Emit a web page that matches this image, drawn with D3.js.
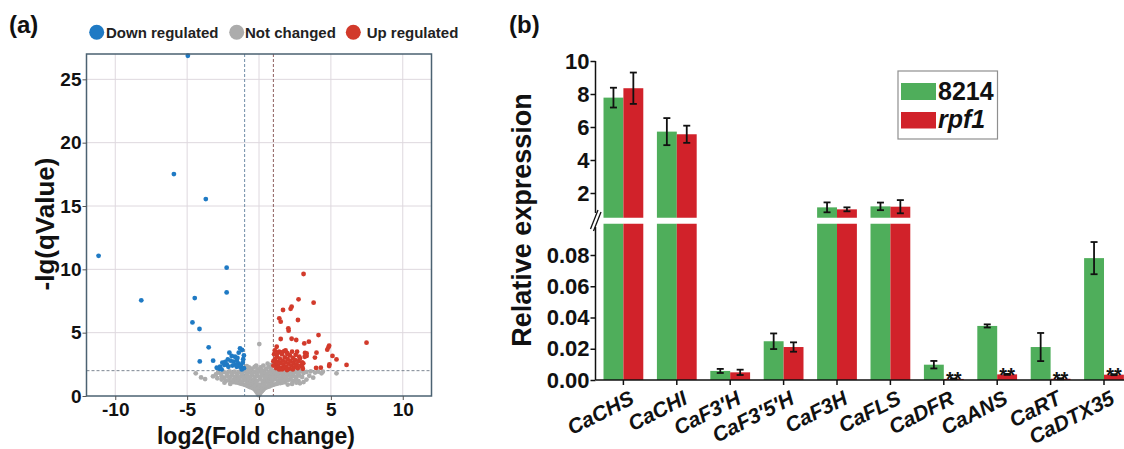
<!DOCTYPE html>
<html><head><meta charset="utf-8">
<script src="https://cdn.jsdelivr.net/npm/d3@7"></script>
<style>body{margin:0;background:#fff}svg{display:block;font-family:"Liberation Sans",Arial,Helvetica,sans-serif}</style>
</head><body>
<svg id="c" width="1124" height="449"></svg>
<script>
// ---------- Panel (a) data: volcano plot ----------
const legendA = ["Down regulated","Not changed","Up regulated"];
const xTicksA = [-10,-5,0,5,10];
const yTicksA = [0,5,10,15,20,25];
const fcCut = [-1,1];
const qCut = 2;
const downPts = [
[-11.16,11.07],[-8.19,7.55],[-4.95,26.86],[-5.92,17.52],[-3.70,15.55],[-2.25,10.13],[-2.25,8.18],[-4.47,7.73],[-4.63,5.81],[-4.14,5.29],[-3.5,3.84],[-4.12,2.73],[-3.19,2.79],
[-2.06,3.42],[-1.32,3.76],[-1.18,3.63],[-1.41,3.42],[-1.67,3.1],[-1.90,3.16],[-2.17,2.89],[-1.97,2.79],[-2.55,2.63],[-2.41,2.45],[-2.71,2.31],[-2.94,2.23],[-2.24,2.5],[-1.78,2.71],[-1.55,2.79],[-1.44,2.58],[-1.25,2.45],[-1.13,2.63],[-1.32,2.31],[-1.55,2.31],[-2.76,2.15],[-2.13,2.31],[-1.05,2.2],[-1.2,2.1],[-1.6,2.45],[-1.85,2.4],[-2.6,2.1],[-1.1,2.9],[-1.5,3.0],[-2.35,2.7],[-1.05,3.2]
];
const upPts = [
[3.10,9.63],[2.75,7.63],[3.80,7.37],[2.27,7.05],[2.2,6.88],[1.67,6.79],[1.41,6.13],[1.51,5.87],[2.71,6.0],[2.04,5.34],[2.06,5.16],[4.14,4.81],[1.51,4.5],[2.27,4.52],[2.59,4.42],[3.47,4.29],[3.15,4.15],[4.88,3.97],[4.83,3.84],[4.75,3.66],[7.48,4.21],[4.0,3.42],[3.2,3.4],[3.18,3.1],[5.11,3.16],[5.39,2.89],[3.89,3.03],[6.09,2.45],[4.88,2.37],[4.9,2.5],[4.3,2.24],[3.97,2.22],[1.23,3.89],[3.31,3.37],[3.31,3.16],[2.85,2.97],[3.08,2.58],[3.0,2.3],[2.62,2.45],
[1.05,3.3],[1.1,2.9],[1.15,2.5],[1.2,2.2],[1.25,3.1],[1.3,2.7],[1.35,2.35],[1.4,3.5],[1.45,2.95],[1.5,2.6],[1.55,2.2],[1.6,3.3],[1.65,2.8],[1.7,2.45],[1.75,3.55],[1.8,3.05],[1.85,2.65],[1.9,2.3],[1.95,3.4],[2.0,2.9],[2.05,2.55],[2.1,2.15],[2.15,3.2],[2.2,2.75],[2.25,2.4],[2.3,3.5],[2.35,3.0],[2.4,2.6],[2.45,2.25],[2.5,2.85],[2.55,3.25],[2.6,2.5],[2.7,2.2],[2.75,2.75],[2.8,3.1],[2.9,2.4],[3.0,2.65],[3.05,2.15],[1.1,3.6],[1.3,3.4],[1.55,3.45],[1.85,3.6],[2.0,3.3],[1.2,2.6],[1.6,2.1],[2.35,2.1],[1.4,2.1],[1.75,2.2],[1.0,2.4],[1.0,2.75],[1.95,2.05],[2.65,3.5]
];
const grayPts = [
[0.0,0.05],[-0.05,0.12],[0.06,0.18],[-0.12,0.25],[0.12,0.28],[-0.18,0.35],[0.2,0.38],[-0.25,0.45],[0.27,0.47],[0.0,0.3],[-0.05,0.45],[0.08,0.5],
[-0.32,0.55],[0.35,0.58],[-0.42,0.62],[0.45,0.65],[-0.55,0.68],[0.55,0.7],[-0.65,0.72],[0.68,0.74],[-0.2,0.6],[0.2,0.65],[-0.08,0.7],[0.1,0.78],[-0.78,0.78],[0.8,0.8],[-0.35,0.8],[0.4,0.82],
[-0.9,0.84],[0.92,0.86],[-1.05,0.9],[1.05,0.9],[-1.2,0.95],[1.2,0.95],[-1.35,1.0],[1.35,1.0],[-1.5,1.05],[1.5,1.02],[-1.65,1.08],[1.65,1.06],[-0.6,0.95],[0.65,0.98],[-0.25,0.95],[0.25,1.0],[0.0,0.9],[-0.8,1.05],[0.85,1.08],[-1.8,1.1],[1.8,1.1],[-0.45,1.1],[0.5,1.1],
[-2.3,1.2],[-2.1,1.25],[-1.95,1.15],[-1.75,1.3],[-1.55,1.2],[-1.4,1.35],[-1.2,1.15],[-1.05,1.3],[-0.9,1.2],[-0.7,1.35],[-0.55,1.22],[-0.35,1.3],[-0.15,1.18],[0.05,1.32],[0.25,1.2],[0.4,1.35],[0.6,1.25],[0.78,1.38],[0.95,1.22],[1.1,1.35],[1.3,1.2],[1.45,1.32],[1.62,1.22],[1.8,1.35],[1.98,1.25],[2.15,1.3],[2.35,1.2],[2.55,1.28],[2.75,1.2],
[-2.6,1.55],[-2.4,1.45],[-2.2,1.6],[-2.0,1.5],[-1.85,1.65],[-1.65,1.48],[-1.5,1.6],[-1.3,1.5],[-1.15,1.62],[-0.98,1.45],[-0.8,1.58],[-0.62,1.5],[-0.45,1.65],[-0.28,1.48],[-0.1,1.6],[0.1,1.5],[0.3,1.62],[0.48,1.46],[0.65,1.6],[0.82,1.5],[1.0,1.65],[1.18,1.48],[1.35,1.6],[1.52,1.45],[1.7,1.62],[1.88,1.5],[2.05,1.64],[2.22,1.48],[2.4,1.6],[2.6,1.5],[2.8,1.62],[3.0,1.5],
[-2.85,1.85],[-2.65,1.75],[-2.45,1.9],[-2.25,1.78],[-2.05,1.95],[-1.9,1.8],[-1.7,1.92],[-1.52,1.75],[-1.38,1.9],[-1.2,1.8],[-1.02,1.95],[-0.85,1.75],[-0.68,1.88],[-0.5,1.78],[-0.32,1.92],[-0.15,1.8],[0.02,1.95],[0.2,1.78],[0.38,1.9],[0.55,1.76],[0.72,1.92],[0.9,1.8],[1.08,1.95],[1.25,1.78],[1.42,1.9],[1.6,1.75],[1.78,1.92],[1.95,1.8],[2.12,1.95],[2.3,1.78],[2.5,1.9],[2.7,1.8],[2.9,1.95],[3.1,1.82],[3.3,1.9],
[-0.9,2.1],[-0.7,2.25],[-0.5,2.15],[-0.3,2.3],[-0.1,2.1],[0.1,2.25],[0.3,2.4],[0.5,2.15],[0.7,2.3],[0.9,2.45],[0.85,2.1],[-0.85,2.35],[0.6,2.55],[-0.6,2.05],[0.2,2.05],[-0.2,2.4],[0.02,4.1],
[-4.4,1.79],[-4.03,1.47],[-3.75,1.34],[-3.2,1.55],[-3.0,1.7],[2.85,1.0],[3.1,1.1],[3.3,1.3],[3.77,1.45],[4.35,1.79],[4.44,1.92],[5.39,1.79],[4.12,1.92],[3.5,1.6],[3.9,1.85],[3.6,1.95],[-2.6,1.3],[-2.9,1.4],[2.6,1.05],[2.3,0.95],[2.0,0.9],[-2.0,0.95],[-2.4,1.05]
];

// ---------- Panel (b) data: relative expression ----------
const genes = ["CaCHS","CaCHI","CaF3'H","CaF3'5'H","CaF3H","CaFLS","CaDFR","CaANS","CaRT","CaDTX35"];
const seriesNames = ["8214","rpf1"];
const wtVals  = [7.78,5.72,0.0058,0.0248,1.13,1.19,0.0098,0.0346,0.0211,0.078];
const wtErr   = [0.6,0.82,0.0013,0.005,0.3,0.23,0.0024,0.001,0.009,0.0103];
const rpfVals = [8.35,5.56,0.0049,0.0211,1.01,1.17,0.0007,0.0036,0.0008,0.0034];
const rpfErr  = [0.95,0.52,0.0017,0.003,0.12,0.4,0.0002,0.0003,0.0003,0.0003];
const signif  = ["","","","","","","**","**","**","**"];
const upperTicks = [2,4,6,8,10];
const lowerTicks = [0,0.02,0.04,0.06,0.08];

const FONT = '"Liberation Sans",Arial,Helvetica,sans-serif';
const svg = d3.select("#c");

// ================= Panel (a) =================
const xA = d3.scaleLinear().domain([-12,12]).range([86.5,431.5]);
const yA = d3.scaleLinear().domain([0,27]).range([396,54]);
const gA = svg.append("g");
gA.append("rect").attr("x",xA(-12)).attr("y",yA(27)).attr("width",xA(12)-xA(-12)).attr("height",yA(0)-yA(27)).attr("fill","#fff");
xTicksA.forEach(v=>gA.append("line").attr("x1",xA(v)).attr("x2",xA(v)).attr("y1",yA(27)).attr("y2",yA(0)).attr("stroke","#ded8de").attr("stroke-width",1));
yTicksA.slice(1).forEach(v=>gA.append("line").attr("x1",xA(-12)).attr("x2",xA(12)).attr("y1",yA(v)).attr("y2",yA(v)).attr("stroke","#ded8de").attr("stroke-width",1));
gA.append("line").attr("x1",xA(fcCut[0])).attr("x2",xA(fcCut[0])).attr("y1",yA(27)).attr("y2",yA(0)).attr("stroke","#6f8ca6").attr("stroke-dasharray","3,2").attr("stroke-width",1);
gA.append("line").attr("x1",xA(fcCut[1])).attr("x2",xA(fcCut[1])).attr("y1",yA(27)).attr("y2",yA(0)).attr("stroke","#8e5f5f").attr("stroke-dasharray","3,2").attr("stroke-width",1);
gA.append("line").attr("x1",xA(-12)).attr("x2",xA(12)).attr("y1",yA(qCut)).attr("y2",yA(qCut)).attr("stroke","#7d8792").attr("stroke-dasharray","3,2").attr("stroke-width",1);

const colA = ["#1f7ac4","#acacac","#d23a2b"];
[[grayPts,colA[1]],[downPts,colA[0]],[upPts,colA[2]]].forEach(([pts,c])=>{
  gA.append("g").selectAll("circle").data(pts).join("circle")
    .attr("cx",d=>xA(d[0])).attr("cy",d=>yA(d[1])).attr("r",2.4).attr("fill",c);
});
gA.append("rect").attr("x",xA(-12)).attr("y",yA(27)).attr("width",xA(12)-xA(-12)).attr("height",yA(0)-yA(27))
  .attr("fill","none").attr("stroke","#4b6272").attr("stroke-width",1.5);

const axA_y = gA.append("g").attr("transform",`translate(${xA(-12)},0)`)
  .call(d3.axisLeft(yA).tickValues(yTicksA).tickSize(4).tickSizeOuter(0).tickPadding(1).tickFormat(d=>String(d)));
const axA_x = gA.append("g").attr("transform",`translate(0,${yA(0)})`)
  .call(d3.axisBottom(xA).tickValues(xTicksA).tickSize(4).tickSizeOuter(0).tickPadding(3).tickFormat(d=>String(d)));
[axA_y,axA_x].forEach(a=>{
  a.select(".domain").remove();
  a.selectAll("line").attr("stroke","#555");
  a.selectAll("text").attr("font-family",FONT).attr("font-size","19px").attr("font-weight","bold").attr("fill","#111");
});
gA.append("text").attr("x",256).attr("y",444).attr("text-anchor","middle").attr("font-family",FONT)
  .attr("font-size","23px").attr("font-weight","bold").attr("fill","#111").text("log2(Fold change)");
gA.append("text").attr("transform","translate(54,224) rotate(-90)").attr("text-anchor","middle").attr("font-family",FONT)
  .attr("font-size","26px").attr("font-weight","bold").attr("fill","#111").text("-lg(qValue)");

// legend (a)
const legX = [[96.7,106],[236.7,245],[353.3,366.7]];
legendA.forEach((t,i)=>{
  gA.append("circle").attr("cx",legX[i][0]).attr("cy",32.3).attr("r",7.5).attr("fill",colA[i]);
  gA.append("text").attr("x",legX[i][1]).attr("y",38).attr("font-family",FONT).attr("font-size","15px")
    .attr("font-weight","bold").attr("fill","#222").text(t);
});
svg.append("text").attr("x",9).attr("y",33).attr("font-family",FONT).attr("font-size","24px").attr("font-weight","bold").attr("fill","#111").text("(a)");
svg.append("text").attr("x",509).attr("y",33).attr("font-family",FONT).attr("font-size","24px").attr("font-weight","bold").attr("fill","#111").text("(b)");

// ================= Panel (b) =================
const axX = 595.5;
const yU = d3.scaleLinear().domain([0.5,10]).range([217.75,61]);
const yL = d3.scaleLinear().domain([0,0.1]).range([380,223.75]);
const xB = d3.scaleBand().domain(genes).range([596.7,1130.7]).paddingInner(0.255).paddingOuter(0.1275);
const xS = d3.scaleBand().domain(seriesNames).range([0,xB.bandwidth()]);
const colB = ["#4fae5b","#d1222a"];
const vals = [wtVals,rpfVals], errs = [wtErr,rpfErr];
const gB = svg.append("g");

genes.forEach((g,i)=>{
  seriesNames.forEach((s,j)=>{
    const v = vals[j][i], e = errs[j][i];
    const x0 = xB(g)+xS(s), w = xS.bandwidth();
    if (v <= 0.1) {
      gB.append("rect").attr("x",x0).attr("y",yL(v)).attr("width",w).attr("height",yL(0)-yL(v)).attr("fill",colB[j]);
    } else {
      gB.append("rect").attr("x",x0).attr("y",yL(0.1)).attr("width",w).attr("height",yL(0)-yL(0.1)).attr("fill",colB[j]);
      gB.append("rect").attr("x",x0).attr("y",yU(v)).attr("width",w).attr("height",yU(0.5)-yU(v)).attr("fill",colB[j]);
    }
    const sc = v <= 0.1 ? yL : yU;
    const cx = x0 + w/2;
    const eb = gB.append("g").attr("stroke","#111").attr("stroke-width",1.8);
    eb.append("line").attr("x1",cx).attr("x2",cx).attr("y1",sc(v-e)).attr("y2",sc(v+e));
    eb.append("line").attr("x1",cx-3.5).attr("x2",cx+3.5).attr("y1",sc(v-e)).attr("y2",sc(v-e));
    eb.append("line").attr("x1",cx-3.5).attr("x2",cx+3.5).attr("y1",sc(v+e)).attr("y2",sc(v+e));
    if (j===1 && signif[i]) {
      gB.append("text").attr("x",cx).attr("y",yL(v+e)+7.6).attr("text-anchor","middle").attr("font-family",FONT)
        .attr("font-size","20px").attr("font-weight","bold").attr("fill","#111").text(signif[i]);
    }
  });
});

// y axes (broken)
const axU = gB.append("g").attr("transform",`translate(${axX},0)`)
  .call(d3.axisLeft(yU).tickValues(upperTicks).tickSize(5).tickSizeOuter(0).tickPadding(1).tickFormat(d=>String(d)));
const axL = gB.append("g").attr("transform",`translate(${axX},0)`)
  .call(d3.axisLeft(yL).tickValues(lowerTicks).tickSize(5).tickSizeOuter(0).tickPadding(1).tickFormat(d3.format(".2f")));
[axU,axL].forEach(a=>{
  a.select(".domain").remove();
  a.selectAll("line").attr("stroke","#111").attr("stroke-width",1.5);
  a.selectAll("text").attr("font-family",FONT).attr("font-size","22px").attr("font-weight","bold").attr("fill","#111");
});
gB.append("line").attr("x1",axX).attr("x2",axX).attr("y1",yU(10)).attr("y2",213).attr("stroke","#111").attr("stroke-width",1.5);
gB.append("line").attr("x1",axX).attr("x2",axX).attr("y1",227).attr("y2",yL(0)).attr("stroke","#111").attr("stroke-width",1.5);
gB.append("line").attr("x1",590.5).attr("x2",598).attr("y1",229).attr("y2",210).attr("stroke","#111").attr("stroke-width",1.3);
gB.append("line").attr("x1",593.5).attr("x2",601).attr("y1",231).attr("y2",212).attr("stroke","#111").attr("stroke-width",1.3);

// x axis
gB.append("line").attr("x1",axX).attr("x2",1124).attr("y1",yL(0)).attr("y2",yL(0)).attr("stroke","#111").attr("stroke-width",1.5);
const axXB = gB.append("g").attr("transform",`translate(0,${yL(0)})`)
  .call(d3.axisBottom(xB).tickSize(5).tickSizeOuter(0).tickFormat(""));
axXB.select(".domain").remove();
axXB.selectAll("line").attr("stroke","#111").attr("stroke-width",1.5);
genes.forEach(g=>{
  const cx = xB(g)+xB.bandwidth()/2;
  gB.append("text").attr("transform",`translate(${cx+12},403) rotate(-27)`).attr("text-anchor","end")
    .attr("font-family",FONT).attr("font-size","21px").attr("font-weight","bold").attr("font-style","italic").attr("fill","#111").text(g);
});
gB.append("text").attr("transform","translate(531,220) rotate(-90)").attr("text-anchor","middle").attr("font-family",FONT)
  .attr("font-size","27px").attr("font-weight","bold").attr("fill","#111").text("Relative expression");

// legend (b)
gB.append("rect").attr("x",898).attr("y",71).attr("width",99.5).attr("height",68).attr("fill","#fff").attr("stroke","#8f8f8f").attr("stroke-width",1.2);
const legY = [[83,17,100],[112,16.5,128.3]];
seriesNames.forEach((s,j)=>{
  gB.append("rect").attr("x",901).attr("y",legY[j][0]).attr("width",35).attr("height",legY[j][1]).attr("fill",colB[j]);
  gB.append("text").attr("x",938).attr("y",legY[j][2]).attr("font-family",FONT).attr("font-size","25px").attr("font-weight","bold")
    .attr("font-style",j===1?"italic":"normal").attr("fill","#111").text(s);
});
</script></body></html>
